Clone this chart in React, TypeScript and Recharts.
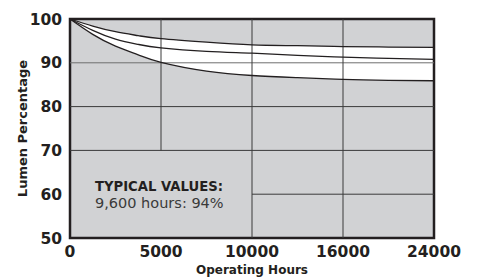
import {
  ComposedChart,
  Area,
  Line,
  XAxis,
  YAxis,
  CartesianGrid,
  ReferenceLine,
  ReferenceArea,
} from 'recharts';

// x axis is drawn with equal spacing between these hour marks
const tickHours = [0, 5000, 10000, 16000, 24000];
const yTicks = [50, 60, 70, 80, 90, 100];

const hours = [0, 1250, 2500, 3750, 5000, 7500, 10000, 13000, 16000, 20000, 24000];
const upperCurve = [100, 98.4, 97.1, 96.2, 95.5, 94.7, 94.1, 93.9, 93.7, 93.6, 93.5];
const middleCurve = [100, 97.4, 95.4, 94.2, 93.4, 92.6, 92.2, 91.7, 91.3, 91.0, 90.8];
const lowerCurve = [100, 96.5, 93.8, 91.8, 90.1, 88.1, 87.1, 86.6, 86.2, 86.0, 85.9];

const noteTitle = 'TYPICAL VALUES:';
const noteText = '9,600 hours: 94%';

// piecewise-linear position of an hour value on the evenly spaced axis
function hourToPos(h: number) {
  for (let i = 1; i < tickHours.length; i++) {
    if (h <= tickHours[i]) {
      const a = tickHours[i - 1];
      const b = tickHours[i];
      return i - 1 + (h - a) / (b - a);
    }
  }
  return tickHours.length - 1;
}

const data = hours.map((h, i) => ({
  pos: hourToPos(h),
  upper: upperCurve[i],
  middle: middleCurve[i],
  lower: lowerCurve[i],
}));

const INK = '#231f20';
const GRID = '#3a3a3a';
const FONT = '"DejaVu Sans", sans-serif';
const CURVE = 'natural';

export default function App() {
  return (
    <div style={{ position: 'absolute', left: 0, top: 0, width: 482, height: 280, background: '#fff' }}>
      <ComposedChart
        width={482}
        height={280}
        data={data}
        margin={{ top: 19, right: 48, bottom: 0, left: 0 }}
      >
        <CartesianGrid horizontal={false} vertical={false} fill="#d1d2d4" />
        <XAxis
          type="number"
          dataKey="pos"
          domain={[0, 4]}
          ticks={[0, 1, 2, 3, 4]}
          tickFormatter={(v: number) => String(tickHours[v])}
          height={42}
          axisLine={false}
          tickLine={false}
          tick={{ fontSize: 15.5, fontWeight: 'bold', fill: INK, fontFamily: FONT }}
          label={{
            value: 'Operating Hours',
            position: 'insideBottom',
            offset: 6,
            style: { fontSize: 12, fontWeight: 'bold', fill: INK, fontFamily: FONT },
          }}
        />
        <YAxis
          type="number"
          domain={[50, 100]}
          ticks={yTicks}
          width={70}
          axisLine={false}
          tickLine={false}
          tick={{ fontSize: 15.5, fontWeight: 'bold', fill: INK, fontFamily: FONT }}
          label={{
            value: 'Lumen Percentage',
            angle: -90,
            position: 'insideLeft',
            offset: 22,
            style: { textAnchor: 'middle', fontSize: 13, fontWeight: 'bold', fill: INK, fontFamily: FONT },
          }}
        />
        <Area
          type={CURVE}
          dataKey={(d: any) => [d.lower, d.upper]}
          stroke="none"
          fill="#ffffff"
          fillOpacity={1}
          isAnimationActive={false}
        />
        <ReferenceLine segment={[{ x: 0, y: 90 }, { x: 4, y: 90 }]} stroke="#6e6e6e" strokeWidth={1} />
        <ReferenceLine segment={[{ x: 0, y: 80 }, { x: 4, y: 80 }]} stroke={GRID} strokeWidth={1} />
        <ReferenceLine segment={[{ x: 0, y: 70 }, { x: 4, y: 70 }]} stroke={GRID} strokeWidth={1} />
        <ReferenceLine segment={[{ x: 2, y: 60 }, { x: 4, y: 60 }]} stroke={GRID} strokeWidth={1} />
        <ReferenceLine segment={[{ x: 1, y: 70 }, { x: 1, y: 100 }]} stroke={GRID} strokeWidth={1} />
        <ReferenceLine segment={[{ x: 2, y: 50 }, { x: 2, y: 100 }]} stroke={GRID} strokeWidth={1} />
        <ReferenceLine segment={[{ x: 3, y: 50 }, { x: 3, y: 100 }]} stroke={GRID} strokeWidth={1} />
        <Line type={CURVE} dataKey="upper" stroke={INK} strokeWidth={1.3} dot={false} isAnimationActive={false} />
        <Line type={CURVE} dataKey="middle" stroke={INK} strokeWidth={1.3} dot={false} isAnimationActive={false} />
        <Line type={CURVE} dataKey="lower" stroke={INK} strokeWidth={1.3} dot={false} isAnimationActive={false} />
        <ReferenceArea x1={0} x2={4} y1={50} y2={100} fill="none" stroke={INK} strokeWidth={2.5} />
      </ComposedChart>
      <div
        style={{
          position: 'absolute',
          left: 95,
          top: 178,
          fontFamily: FONT,
          color: INK,
          lineHeight: '17px',
        }}
      >
        <div style={{ fontSize: 13.2, fontWeight: 'bold' }}>{noteTitle}</div>
        <div style={{ fontSize: 14.5, color: '#3a3a3a' }}>{noteText}</div>
      </div>
    </div>
  );
}
